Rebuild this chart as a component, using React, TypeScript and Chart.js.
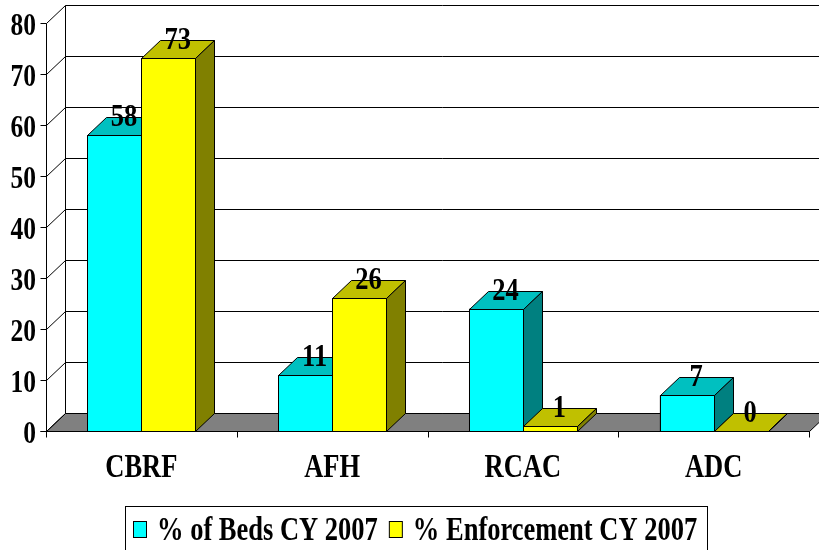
import React, { useEffect, useRef } from "react";
import { Chart, registerables } from "chart.js";

Chart.register(...registerables);

const categories = ["CBRF", "AFH", "RCAC", "ADC"];
const bedsPct = [58, 11, 24, 7];
const enforcementPct = [73, 26, 1, 0];
const seriesNames = ["% of Beds CY 2007", "% Enforcement CY 2007"];
const yMin = 0;
const yMax = 80;
const yStep = 10;

const FRONT = ["#00FFFF", "#FFFF00"];
const TOP = ["#00C0C0", "#C0C000"];
const SIDE = ["#008080", "#808000"];
const DX = 19;
const DY = 18;
const FONT = "'Liberation Serif', 'Times New Roman', serif";

function seg(ctx: CanvasRenderingContext2D, x1: number, y1: number, x2: number, y2: number) {
  ctx.beginPath();
  ctx.moveTo(x1, y1);
  ctx.lineTo(x2, y2);
  ctx.stroke();
}

function stretchedText(
  ctx: CanvasRenderingContext2D,
  text: string,
  x: number,
  y: number,
  size: number,
  sy: number,
  align: CanvasTextAlign,
  baseline: CanvasTextBaseline
) {
  ctx.save();
  ctx.font = `bold ${size}px ${FONT}`;
  ctx.textAlign = align;
  ctx.textBaseline = baseline;
  ctx.fillStyle = "#000";
  ctx.translate(x, y);
  ctx.scale(1, sy);
  ctx.fillText(text, 0, 0);
  ctx.restore();
}

const px = (v: number) => Math.round(v) + 0.5;

const threeDPlugin = {
  id: "threeD",
  beforeDatasetsDraw(chart: any) {
    const { ctx, chartArea: a, scales } = chart;
    const y = scales.y;
    const n = categories.length;
    const y0 = px(y.getPixelForValue(yMin));
    const yT = px(y.getPixelForValue(yMax));
    const L = px(a.left);
    const R = px(a.right);
    ctx.save();
    ctx.lineWidth = 1;
    ctx.strokeStyle = "#000";
    // floor
    ctx.beginPath();
    ctx.moveTo(L, y0);
    ctx.lineTo(R, y0);
    ctx.lineTo(R + DX, y0 - DY);
    ctx.lineTo(L + DX, y0 - DY);
    ctx.closePath();
    ctx.fillStyle = "#808080";
    ctx.fill();
    ctx.stroke();
    // back wall gridlines, side wall diagonals, y ticks
    y.ticks.forEach((t: any) => {
      const py = px(y.getPixelForValue(t.value));
      seg(ctx, L + DX, py - DY, R + DX + 20, py - DY);
      seg(ctx, L, py, L + DX, py - DY);
      seg(ctx, L - 6, py, L, py);
    });
    // back wall left edge and front axis
    seg(ctx, L + DX, yT - DY, L + DX, y0 - DY);
    seg(ctx, L, yT, L, y0);
    // x axis front line and ticks
    seg(ctx, L - 6, y0, R, y0);
    for (let i = 0; i <= n; i++) {
      const bx = px(a.left + (i * a.width) / n);
      seg(ctx, bx, y0, bx, y0 + 6);
    }
    ctx.restore();
  },
  afterDatasetsDraw(chart: any) {
    const { ctx } = chart;
    const nd = chart.data.datasets.length;
    const labels: { x: number; y: number; t: string }[] = [];
    ctx.save();
    ctx.lineWidth = 1;
    ctx.strokeStyle = "#000";
    for (let i = 0; i < categories.length; i++) {
      for (let d = 0; d < nd; d++) {
        const el = chart.getDatasetMeta(d).data[i];
        const p = el.getProps(["x", "y", "base", "width"], true);
        const x0 = px(p.x - p.width / 2);
        const x1 = px(p.x + p.width / 2);
        const yt = px(p.y);
        const yb = px(p.base);
        // front
        ctx.fillStyle = FRONT[d];
        ctx.fillRect(x0, yt, x1 - x0, yb - yt);
        ctx.strokeRect(x0, yt, x1 - x0, yb - yt);
        // top
        ctx.beginPath();
        ctx.moveTo(x0, yt);
        ctx.lineTo(x1, yt);
        ctx.lineTo(x1 + DX, yt - DY);
        ctx.lineTo(x0 + DX, yt - DY);
        ctx.closePath();
        ctx.fillStyle = TOP[d];
        ctx.fill();
        ctx.stroke();
        // side
        ctx.beginPath();
        ctx.moveTo(x1, yt);
        ctx.lineTo(x1 + DX, yt - DY);
        ctx.lineTo(x1 + DX, yb - DY);
        ctx.lineTo(x1, yb);
        ctx.closePath();
        ctx.fillStyle = SIDE[d];
        ctx.fill();
        ctx.stroke();
        labels.push({
          x: p.x + DX / 2,
          y: p.y - 9,
          t: String(chart.data.datasets[d].data[i]),
        });
      }
    }
    ctx.restore();
    labels.forEach((l) => stretchedText(ctx, l.t, l.x, l.y, 26.5, 1.22, "center", "alphabetic"));
  },
  afterDraw(chart: any) {
    const { ctx, scales } = chart;
    const y = scales.y;
    const x = scales.x;
    // y tick labels
    y.ticks.forEach((t: any) => {
      const py = y.getPixelForValue(t.value);
      stretchedText(ctx, String(t.label), 36, py + 12, 25.5, 1.27, "right", "alphabetic");
    });
    // x labels
    categories.forEach((_, i) => {
      stretchedText(ctx, String(x.getLabelForValue(i)), x.getPixelForValue(i), 477, 26.5, 1.25, "center", "alphabetic");
    });
    // legend
    ctx.save();
    ctx.lineWidth = 1;
    ctx.strokeStyle = "#000";
    ctx.strokeRect(125.5, 506.5, 582, 60);
    ctx.font = `bold 26.5px ${FONT}`;
    let lx = 133;
    chart.data.datasets.forEach((ds: any) => {
      ctx.fillStyle = ds.backgroundColor;
      ctx.fillRect(lx + 0.5, 521.5, 13, 16);
      ctx.strokeRect(lx + 0.5, 521.5, 13, 16);
      const tx = lx + 24;
      const w = ctx.measureText(ds.label).width;
      stretchedText(ctx, ds.label, tx, 540, 26.5, 1.25, "left", "alphabetic");
      lx = tx + w + 11;
    });
    ctx.restore();
  },
};

export default function App() {
  const ref = useRef<HTMLCanvasElement>(null);
  useEffect(() => {
    if (!ref.current) return;
    const chart = new Chart(ref.current, {
      type: "bar",
      data: {
        labels: categories,
        datasets: [
          { label: seriesNames[0], data: bedsPct, backgroundColor: FRONT[0], borderColor: "#000", borderWidth: 1 },
          { label: seriesNames[1], data: enforcementPct, backgroundColor: FRONT[1], borderColor: "#000", borderWidth: 1 },
        ],
      },
      options: {
        responsive: false,
        animation: false,
        categoryPercentage: 0.566,
        barPercentage: 1,
        layout: { padding: { left: 0, right: 10, top: 22.7, bottom: 0 } },
        plugins: { legend: { display: false }, tooltip: { enabled: false } },
        scales: {
          x: {
            offset: true,
            grid: { display: false },
            border: { display: false },
            ticks: { display: false },
            afterFit: (s: any) => {
              s.height = 119;
            },
          },
          y: {
            min: yMin,
            max: yMax,
            ticks: { stepSize: yStep, display: false },
            grid: { display: false },
            border: { display: false },
            afterFit: (s: any) => {
              s.width = 46;
            },
          },
        },
      } as any,
      plugins: [threeDPlugin],
    });
    return () => chart.destroy();
  }, []);
  return (
    <div style={{ position: "absolute", left: 0, top: 0, width: 819, height: 550, background: "#fff" }}>
      <canvas ref={ref} width={819} height={550} style={{ display: "block" }} />
    </div>
  );
}
